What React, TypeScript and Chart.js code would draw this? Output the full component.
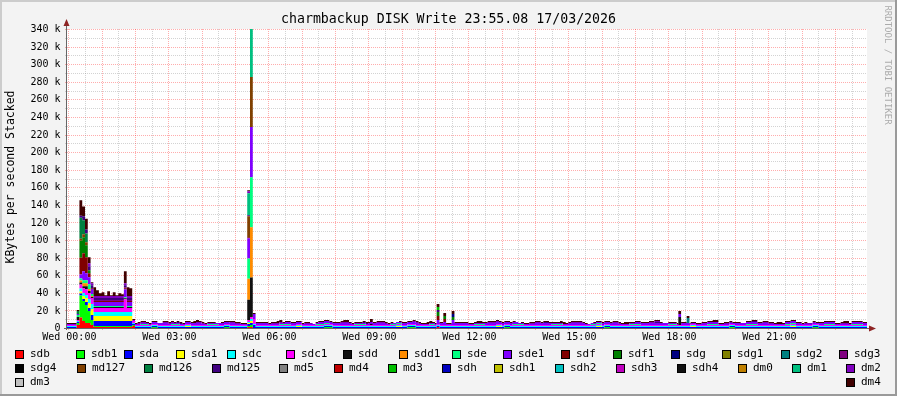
import { useEffect, useRef } from 'react';
import { Chart, registerables } from 'chart.js';

Chart.register(...registerables);

type Step = [number, number]; // [start hour, KBytes/s in thousands]

const TITLE = 'charmbackup DISK Write 23:55.08 17/03/2026';
const Y_TITLE = 'KBytes per second Stacked';
const WATERMARK = 'RRDTOOL / TOBI OETIKER';

const X_MIN = -0.04;
const X_MAX = 23.96;
const Y_MAX = 340;

const X_TICK_HOURS = [0, 3, 6, 9, 12, 15, 18, 21];
const X_TICK_LABELS = ['Wed 00:00', 'Wed 03:00', 'Wed 06:00', 'Wed 09:00', 'Wed 12:00', 'Wed 15:00', 'Wed 18:00', 'Wed 21:00'];
const Y_TICK_VALUES = [0, 20, 40, 60, 80, 100, 120, 140, 160, 180, 200, 220, 240, 260, 280, 300, 320, 340];
const Y_TICK_LABELS = ['0', '20 k', '40 k', '60 k', '80 k', '100 k', '120 k', '140 k', '160 k', '180 k', '200 k', '220 k', '240 k', '260 k', '280 k', '300 k', '320 k', '340 k'];

const SERIES_NAMES = [
  'sdb', 'sdb1', 'sda', 'sda1', 'sdc', 'sdc1', 'sdd', 'sdd1', 'sde', 'sde1', 'sdf', 'sdf1', 'sdg', 'sdg1', 'sdg2', 'sdg3',
  'sdg4', 'md127', 'md126', 'md125', 'md5', 'md4', 'md3', 'sdh', 'sdh1', 'sdh2', 'sdh3', 'sdh4', 'dm0', 'dm1', 'dm2',
  'dm3', 'dm4',
];
const SERIES_COLORS = [
  '#FF0000', '#00FF00', '#0000FF', '#FFFF00', '#00FFFF', '#FF00FF', '#111111', '#FF8C00', '#00FF80', '#8000FF', '#800000', '#008000', '#000080', '#808000', '#008080', '#800080',
  '#000000', '#804000', '#008040', '#400080', '#808080', '#C00000', '#00C000', '#0000C0', '#C0C000', '#00C0C0', '#C000C0', '#101010', '#C08000', '#00C080', '#8000C0',
  '#C0C0C0', '#400000',
];

// step data per series: value holds from the given hour until the next entry
const sdb: Step[] = [[-0.05, 0], [0.25, 3.4], [0.333, 12], [0.417, 7.9], [0.5, 5.67], [0.583, 5.67], [0.667, 3.4], [0.75, 1.13], [1.917, 2.27], [2.0, 0], [5.367, 1.13], [5.533, 0], [11.05, 1.13], [11.133, 0]];
const sdb1: Step[] = [
  [-0.05, 0], [0.25, 2.27], [0.333, 24.9], [0.417, 22.7], [0.5, 20.4], [0.583, 13.6], [0.667, 5.67], [0.75, 1.13], [1.917, 1.13], [2.0, 0],
  [2.5, 1.13], [2.67, 0], [4.67, 1.13], [4.83, 0], [5.367, 1.13], [5.45, 2.27], [5.533, 0], [7.67, 1.13], [7.92, 0], [10.17, 1.13], [10.42, 0],
  [13.08, 1.13], [13.25, 0], [16.08, 1.13], [16.25, 0], [19.83, 1.13], [20.0, 0], [22.33, 1.13], [22.5, 0],
];
const sda: Step[] = [[-0.05, 1.13], [0.333, 2.27], [0.5, 3.4], [0.667, 5.67], [1.917, 1.13], [5.367, 2.27], [5.533, 3.4], [5.617, 1.13]];
const sda1: Step[] = [
  [-0.05, 0], [0.333, 2.27], [0.417, 3.4], [0.5, 4.53], [0.583, 5.67], [0.667, 6.8], [0.75, 5.67], [1.917, 0], [3.5, 1.13], [3.67, 0],
  [5.367, 1.13], [5.45, 2.27], [5.533, 0], [6.83, 1.13], [7.0, 0], [9.83, 1.13], [10.0, 0], [12.83, 1.13], [13.0, 0], [15.83, 1.13], [16.0, 0],
  [18.67, 1.13], [18.83, 0], [21.67, 1.13], [21.83, 0],
];
const sdc: Step[] = [[-0.05, 1.13], [0.333, 3.4], [0.583, 4.53], [0.667, 5.67], [0.75, 4.53], [1.917, 1.13], [5.45, 2.27], [5.533, 1.13]];
const sdc1: Step[] = [[-0.05, 1.13], [0.333, 4.53], [0.417, 5.67], [0.5, 6.8], [0.75, 4.53], [1.667, 14.7], [1.75, 4.53], [1.917, 2.27], [2.0, 1.13], [5.367, 2.27], [5.533, 5.67], [5.617, 1.13]];
const sdd: Step[] = [[-0.05, 0], [0.25, 3.4], [0.333, 2.27], [0.5, 3.4], [0.583, 2.27], [0.667, 1.13], [1.917, 0], [5.367, 23], [5.45, 45], [5.533, 0], [9.05, 1.13], [9.133, 0], [18.3, 9.07], [18.383, 0]];
const sdd1: Step[] = [[-0.05, 0], [0.333, 2.27], [0.417, 3.4], [0.583, 2.27], [0.667, 1.13], [0.75, 0], [5.367, 24], [5.45, 57], [5.533, 0]];
const sde: Step[] = [
  [-0.05, 0], [0.25, 2.27], [0.417, 3.4], [0.583, 5.67], [0.667, 2.27], [0.75, 1.13], [1.917, 0], [2.17, 1.13], [2.42, 0], [3.08, 1.13], [3.33, 0],
  [4.17, 1.13], [4.5, 0], [5.367, 23], [5.45, 57], [5.533, 0], [6.33, 1.13], [6.67, 0], [7.42, 1.13], [7.83, 0], [8.58, 1.13], [8.92, 0],
  [9.67, 1.13], [10.0, 0], [10.83, 1.13], [11.0, 0], [12.17, 1.13], [12.5, 0], [13.33, 1.13], [13.67, 0], [14.5, 1.13], [14.83, 0],
  [15.67, 1.13], [16.0, 0], [16.83, 1.13], [17.17, 0], [18.0, 1.13], [18.25, 0], [19.17, 1.13], [19.5, 0], [20.33, 1.13], [20.67, 0],
  [21.5, 1.13], [21.83, 0], [22.67, 1.13], [23.0, 0], [23.5, 1.13], [23.83, 0],
];
const sde1: Step[] = [
  [-0.05, 1.13], [0.333, 4.53], [0.417, 10.2], [0.5, 7.9], [0.667, 5.67], [0.75, 4.53], [1.667, 9.07], [1.75, 4.53], [1.917, 1.13],
  [2.5, 2.27], [3.0, 1.13], [3.5, 2.27], [4.0, 1.13], [4.5, 2.27], [5.0, 1.13], [5.367, 23], [5.45, 57], [5.533, 5.67], [5.617, 2.27],
  [6.0, 1.13], [6.5, 2.27], [7.0, 1.13], [7.5, 2.27], [8.5, 1.13], [9.0, 2.27], [9.5, 1.13], [10.0, 2.27], [10.5, 1.13],
  [11.05, 4.53], [11.133, 2.27], [11.25, 3.4], [11.333, 1.13], [11.5, 5.67], [11.583, 2.27], [12.0, 1.13], [12.5, 2.27], [13.5, 1.13],
  [14.0, 2.27], [14.5, 1.13], [15.0, 2.27], [15.5, 1.13], [16.0, 2.27], [16.5, 1.13], [17.0, 2.27], [18.0, 1.13], [18.3, 3.4],
  [18.383, 2.27], [18.55, 2.27], [18.633, 1.13], [19.0, 2.27], [19.5, 1.13], [20.0, 2.27], [21.0, 1.13], [21.5, 2.27], [22.0, 1.13],
  [22.5, 2.27], [23.0, 1.13], [23.5, 2.27],
];
const sdf: Step[] = [[-0.05, 0], [0.333, 19.3], [0.417, 20.4], [0.5, 18.1], [0.583, 4.53], [0.667, 1.13], [1.917, 0], [5.367, 1.13], [5.45, 0], [11.05, 4.53], [11.133, 0], [11.25, 3.4], [11.333, 0]];
const sdf1: Step[] = [[-0.05, 0], [0.333, 19.3], [0.417, 18.1], [0.5, 13.6], [0.583, 3.4], [0.667, 0], [11.05, 4.53], [11.133, 0], [11.25, 3.4], [11.333, 0], [11.5, 3.4], [11.583, 0]];
const sdg: Step[] = [[-0.05, 0], [11.5, 3.4], [11.583, 0]];
const sdg1: Step[] = [[-0.05, 0]];
const sdg2: Step[] = [[-0.05, 0], [18.55, 5.67], [18.633, 0]];
const sdg3: Step[] = [[-0.05, 0], [0.75, 1.13], [1.917, 0]];
const sdg4: Step[] = [[-0.05, 0]];
const md127: Step[] = [[-0.05, 0], [0.333, 2.27], [0.417, 3.4], [0.583, 0], [5.367, 24], [5.45, 57], [5.533, 0]];
const md126: Step[] = [[-0.05, 0], [0.25, 3.4], [0.333, 23.8], [0.417, 15.9], [0.5, 10.2], [0.583, 0]];
const md125: Step[] = [
  [-0.05, 0], [0.333, 2.27], [0.417, 4.53], [0.667, 3.4], [0.75, 2.27], [1.917, 0], [3.25, 1.13], [3.42, 0], [5.367, 1.13], [5.45, 0],
  [8.83, 1.13], [9.0, 0], [11.05, 2.27], [11.133, 0], [14.25, 1.13], [14.42, 0], [17.58, 1.13], [17.75, 0], [20.5, 1.13], [20.67, 0],
];
const md5: Step[] = [[-0.05, 0]];
const md4: Step[] = [[-0.05, 0]];
const md3: Step[] = [[-0.05, 0], [11.05, 3.4], [11.133, 0]];
const sdh: Step[] = [[-0.05, 0]];
const sdh1: Step[] = [[-0.05, 0]];
const sdh2: Step[] = [[-0.05, 0]];
const sdh3: Step[] = [[-0.05, 0]];
const sdh4: Step[] = [[-0.05, 0]];
const dm0: Step[] = [[-0.05, 0]];
const dm1: Step[] = [[-0.05, 0], [5.367, 25], [5.45, 55], [5.533, 0]];
const dm2: Step[] = [
  [-0.05, 0], [0.583, 3.4], [0.667, 2.27], [1.917, 0], [2.08, 1.13], [2.33, 0], [2.83, 1.13], [3.17, 0], [3.83, 1.13], [4.08, 0],
  [4.83, 1.13], [5.17, 0], [5.367, 2.27], [5.45, 0], [6.08, 1.13], [6.42, 0], [7.08, 1.13], [7.33, 0], [8.17, 1.13], [8.42, 0],
  [9.25, 1.13], [9.58, 0], [10.33, 1.13], [10.58, 0], [12.58, 1.13], [12.92, 0], [13.83, 1.13], [14.17, 0], [15.08, 1.13], [15.42, 0],
  [16.33, 1.13], [16.58, 0], [17.42, 1.13], [17.75, 0], [19.67, 1.13], [19.92, 0], [20.83, 1.13], [21.17, 0], [22.08, 1.13], [22.42, 0],
  [23.17, 1.13], [23.42, 0],
];
const dm3: Step[] = [[-0.05, 0]];
const dm4: Step[] = [
  [-0.05, 1.13], [0.25, 1.13], [0.333, 17.5], [0.417, 11.3], [0.5, 12], [0.583, 6.8], [0.667, 1.13], [0.75, 10.2], [0.833, 6.8], [0.917, 3.4],
  [1.0, 4.53], [1.083, 1.13], [1.167, 5.67], [1.25, 1.13], [1.333, 4.53], [1.417, 1.13], [1.5, 3.4], [1.583, 2.27], [1.667, 13.6], [1.75, 10.2],
  [1.833, 9.07], [1.917, 1.13], [2.67, 0], [2.83, 1.13], [3.75, 2.27], [3.92, 1.13], [4.42, 0], [4.58, 1.13], [6.25, 2.27], [6.42, 1.13],
  [7.25, 0], [7.42, 1.13], [8.25, 2.27], [8.42, 1.13], [9.05, 3.4], [9.133, 1.13], [9.75, 0], [9.92, 1.13], [10.75, 2.27], [10.92, 1.13],
  [11.05, 3.4], [11.133, 1.13], [11.25, 3.4], [11.333, 1.13], [11.5, 3.4], [11.583, 1.13], [12.25, 2.27], [12.42, 1.13], [13.42, 0],
  [13.58, 1.13], [14.75, 2.27], [14.92, 1.13], [15.58, 0], [15.75, 1.13], [16.67, 2.27], [16.83, 1.13], [17.83, 0], [18.0, 1.13],
  [18.3, 3.4], [18.383, 1.13], [18.55, 2.27], [18.633, 1.13], [19.33, 2.27], [19.5, 1.13], [20.17, 0], [20.33, 1.13], [21.25, 2.27],
  [21.42, 1.13], [22.17, 0], [22.33, 1.13], [23.25, 2.27], [23.42, 1.13],
];

const SERIES_STEPS: Step[][] = [
  sdb, sdb1, sda, sda1, sdc, sdc1, sdd, sdd1, sde, sde1, sdf, sdf1, sdg, sdg1, sdg2, sdg3,
  sdg4, md127, md126, md125, md5, md4, md3, sdh, sdh1, sdh2, sdh3, sdh4, dm0, dm1, dm2, dm3, dm4,
];

// legend layout: [series index, box left x] per row
const LEGEND_ROWS: { y: number; items: [number, number][] }[] = [
  { y: 354, items: [[0, 15], [1, 76], [2, 124], [3, 176], [4, 227], [5, 286], [6, 343], [7, 399], [8, 452], [9, 503], [10, 561], [11, 613], [12, 671], [13, 722], [14, 781], [15, 839]] },
  { y: 368, items: [[16, 15], [17, 77], [18, 144], [19, 212], [20, 279], [21, 334], [22, 388], [23, 442], [24, 494], [25, 555], [26, 616], [27, 677], [28, 738], [29, 792], [30, 846]] },
  { y: 382, items: [[31, 15], [32, 846]] },
];

const W = 897;
const H = 396;
const MONO = '"DejaVu Sans Mono", monospace';

const GRID_T: number[] = Array.from(new Set([...SERIES_STEPS.flatMap((s) => s.map((p) => p[0])), X_MAX])).sort((a, b) => a - b);

function valueAt(steps: Step[], t: number): number {
  let best = -Infinity;
  let v = 0;
  for (const [s, val] of steps) {
    if (s <= t + 1e-9 && s >= best) {
      best = s;
      v = val;
    }
  }
  return v;
}

const rrdPlugin = {
  id: 'rrdLook',
  beforeDraw(chart: any) {
    const { ctx, chartArea: a } = chart;
    const xs = chart.scales.x;
    const ys = chart.scales.y;
    ctx.save();
    ctx.fillStyle = '#F3F3F3';
    ctx.fillRect(0, 0, W, H);
    ctx.fillStyle = '#CCCCCC';
    ctx.fillRect(0, 0, W, 2);
    ctx.fillRect(0, 0, 2, H);
    ctx.fillStyle = '#9A9A9A';
    ctx.fillRect(0, H - 2, W, 2);
    ctx.fillRect(W - 2, 0, 2, H);
    ctx.fillStyle = '#FFFFFF';
    ctx.fillRect(a.left, a.top, a.right - a.left, a.bottom - a.top);

    ctx.lineWidth = 1;
    ctx.setLineDash([1, 1]);
    for (let v = 10; v <= Y_MAX; v += 10) {
      const y = Math.round(ys.getPixelForValue(v)) + 0.5;
      ctx.strokeStyle = v % 20 === 0 ? 'rgba(255,0,0,0.32)' : 'rgba(128,128,128,0.35)';
      ctx.beginPath();
      ctx.moveTo(a.left - 2, y);
      ctx.lineTo(a.right, y);
      ctx.stroke();
    }
    for (let h = 0; h <= 23.5; h += 0.5) {
      const x = Math.round(xs.getPixelForValue(h)) + 0.5;
      const major = h % 1 === 0;
      ctx.strokeStyle = major ? 'rgba(255,0,0,0.32)' : 'rgba(128,128,128,0.35)';
      ctx.beginPath();
      ctx.moveTo(x, a.top);
      ctx.lineTo(x, a.bottom + (major ? 3 : 0));
      ctx.stroke();
    }
    ctx.restore();
  },
  afterDraw(chart: any) {
    const { ctx, chartArea: a } = chart;
    const xs = chart.scales.x;
    const ys = chart.scales.y;
    ctx.save();
    ctx.strokeStyle = '#666666';
    ctx.lineWidth = 1;
    ctx.beginPath();
    ctx.moveTo(a.left - 0.5, a.bottom + 2);
    ctx.lineTo(a.left - 0.5, 25);
    ctx.moveTo(a.left - 3, a.bottom + 0.5);
    ctx.lineTo(a.right + 3, a.bottom + 0.5);
    ctx.stroke();
    ctx.fillStyle = '#8E2424';
    ctx.beginPath();
    ctx.moveTo(a.left - 0.5, 19);
    ctx.lineTo(a.left - 3.5, 26);
    ctx.lineTo(a.left + 2.5, 26);
    ctx.closePath();
    ctx.fill();
    ctx.beginPath();
    ctx.moveTo(a.right + 9, a.bottom + 0.5);
    ctx.lineTo(a.right + 2, a.bottom - 2.5);
    ctx.lineTo(a.right + 2, a.bottom + 3.5);
    ctx.closePath();
    ctx.fill();

    ctx.fillStyle = '#000000';
    ctx.font = `10px ${MONO}`;
    ctx.textAlign = 'right';
    ctx.textBaseline = 'middle';
    Y_TICK_VALUES.forEach((v, i) => {
      ctx.fillText(Y_TICK_LABELS[i], 60.5, ys.getPixelForValue(v) + 0.5);
    });
    ctx.textAlign = 'center';
    X_TICK_HOURS.forEach((h, i) => {
      ctx.fillText(X_TICK_LABELS[i], xs.getPixelForValue(h) + 1, 337.5);
    });

    ctx.font = `13.25px ${MONO}`;
    ctx.fillText(TITLE, W / 2, 19.5);

    ctx.save();
    ctx.font = `11.5px ${MONO}`;
    ctx.translate(11.5, 177);
    ctx.rotate(-Math.PI / 2);
    ctx.fillText(Y_TITLE, 0, 0);
    ctx.restore();

    ctx.save();
    ctx.font = `9px ${MONO}`;
    ctx.fillStyle = '#ABABAB';
    ctx.translate(887, 65);
    ctx.rotate(Math.PI / 2);
    ctx.fillText(WATERMARK, 0, 0);
    ctx.restore();

    ctx.font = `11px ${MONO}`;
    ctx.textAlign = 'left';
    LEGEND_ROWS.forEach((row) => {
      row.items.forEach(([idx, x]) => {
        const top = Math.round(row.y - 4.5);
        ctx.fillStyle = '#000000';
        ctx.fillRect(x, top, 9, 9);
        ctx.fillStyle = SERIES_COLORS[idx];
        ctx.fillRect(x + 1, top + 1, 7, 7);
        ctx.fillStyle = '#000000';
        ctx.fillText(SERIES_NAMES[idx], x + 15, row.y + 0.5);
      });
    });
    ctx.restore();
  },
};

export default function App() {
  const ref = useRef<HTMLCanvasElement>(null);
  useEffect(() => {
    const canvas = ref.current;
    if (!canvas) return;
    const datasets = SERIES_NAMES.map((name, i) => ({
      label: name,
      data: GRID_T.map((t) => ({ x: t, y: valueAt(SERIES_STEPS[i], t) })),
      backgroundColor: SERIES_COLORS[i],
      borderColor: 'rgba(0,0,0,0)',
      borderWidth: 0,
      pointRadius: 0,
      stepped: true,
      fill: i === 0 ? 'origin' : '-1',
    }));
    const chart = new Chart(canvas, {
      type: 'line',
      data: { datasets } as any,
      options: {
        animation: false,
        responsive: false,
        devicePixelRatio: 1,
        events: [],
        layout: { padding: { left: 67, right: 30, top: 29, bottom: 68 } },
        scales: {
          x: { type: 'linear', min: X_MIN, max: X_MAX, display: false },
          y: { type: 'linear', min: 0, max: Y_MAX, stacked: true, display: false },
        },
        plugins: { legend: { display: false }, tooltip: { enabled: false }, title: { display: false } },
      } as any,
      plugins: [rrdPlugin],
    });
    return () => chart.destroy();
  }, []);
  return (
    <canvas
      ref={ref}
      width={W}
      height={H}
      style={{ position: 'fixed', left: 0, top: 0, display: 'block', width: W, height: H }}
    />
  );
}
